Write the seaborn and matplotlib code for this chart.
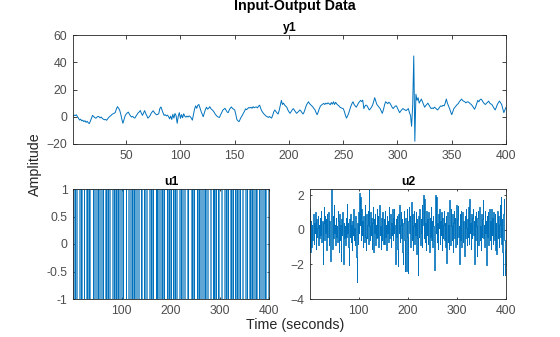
import numpy as np
import pandas as pd
import matplotlib
matplotlib.use("Agg")
import matplotlib.pyplot as plt
import seaborn as sns

# ---------------- data ----------------
y1 = [
    0.5, 1.2, 0.8, 1.5, 0.3, -1.0, -2.4, -1.8, -3.0, -2.5, -3.6, -2.9, -4.1, -3.3, -4.4, -5.0, -3.2, -1.0, 1.0, 0.2,
    -0.6, -1.1, -0.4, 0.3, 0.0, -0.8, -0.2, -1.2, -1.8, -2.2, -2.0, -2.6, -1.5, -0.4, 0.2, 0.9, 1.8, 2.2, 2.6, 3.2,
    5.8, 7.4, 6.3, 4.8, 2.0, -1.8, -4.8, -2.0, 0.6, 2.0, 2.8, 3.4, 1.8, 0.6, -0.2, 0.3, -0.6, -1.0, 0.4, 1.6,
    2.8, 3.5, 4.6, 2.6, 1.0, 2.8, 4.5, 2.4, 0.8, -1.0, -0.2, 0.8, 2.5, 3.6, 4.4, 3.0, 2.1, 1.4, 1.8, 2.2,
    6.0, 7.2, 5.0, 2.8, 1.0, 1.5, 0.6, 1.2, 0.2, -1.5, 0.5, -2.0, 1.8, -1.0, 2.4, 0.8, -4.8, 0.4, 3.0, -1.2,
    1.6, -0.8, 2.2, 0.4, -0.3, 0.5, -0.2, 0.6, 0.1, -1.0, -2.5, 1.5, 5.6, 8.0, 6.2, 8.4, 9.0, 6.5, 4.0, 2.0,
    0.0, 2.8, 5.2, 7.0, 5.6, 6.2, 7.4, 6.0, 5.2, 4.5, 3.4, 2.0, 1.0, 0.2, -0.3, -0.5, 1.5, 3.0, 4.8, 5.5,
    6.2, 4.8, 3.5, 3.0, 5.0, 6.4, 7.2, 6.0, 5.6, 5.0, 1.8, -2.0, -3.0, -3.6, -1.8, -0.2, 1.0, 2.6, 4.0, 5.8,
    5.2, 6.0, 6.8, 6.4, 7.0, 6.2, 7.4, 6.6, 7.0, 7.2, 6.5, 7.8, 8.5, 6.0, 4.2, 3.0, 2.0, 1.2, 0.4, 0.0,
    -0.5, 0.2, -0.4, -1.0, 1.0, 3.6, 5.0, 3.8, 2.8, 2.0, 4.6, 8.2, 12.0, 9.0, 10.0, 8.6, 7.8, 7.0, 5.0, 3.6,
    2.5, 3.8, 5.0, 6.0, 4.8, 3.6, 2.5, 3.2, 4.0, 5.0, 4.2, 3.0, 2.0, 3.5, 6.0, 8.4, 9.8, 11.0, 9.6, 8.8,
    8.0, 7.2, 6.0, 5.0, 3.0, 1.5, 3.6, 6.0, 7.8, 8.6, 9.2, 9.8, 9.0, 10.0, 9.4, 10.2, 9.6, 8.8, 10.4, 9.2,
    11.0, 9.0, 10.6, 9.4, 8.6, 8.0, 7.0, 6.6, 6.2, 6.0, 4.0, 1.2, -1.0, 0.6, 2.5, 5.0, 7.6, 9.6, 11.0, 9.0,
    8.0, 7.0, 8.4, 10.0, 11.0, 12.0, 11.2, 12.2, 6.0, 7.8, 8.6, 8.0, 6.5, 5.0, 5.8, 7.0, 8.4, 11.0, 14.0, 11.5,
    9.0, 8.0, 7.0, 6.0, 4.2, 2.5, 5.0, 8.4, 11.0, 10.4, 9.6, 10.6, 10.0, 8.6, 7.0, 6.0, 7.0, 7.8, 8.0, 6.2,
    4.6, 3.0, 4.2, 5.2, 6.0, 5.4, 5.0, 4.5, 5.2, 6.0, 3.0, 1.0, -7.0, 8.0, 44.6, -18.0, 16.5, 12.0, 14.0, 10.0,
    11.5, 13.0, 11.0, 9.0, 7.0, 8.2, 9.0, 10.0, 8.6, 7.2, 6.0, 6.4, 6.0, 7.0, 6.4, 5.6, 5.0, 6.0, 7.2, 8.0,
    7.6, 8.4, 8.0, 10.0, 13.0, 10.0, 8.0, 6.0, 3.6, 1.5, 3.8, 6.0, 7.0, 8.0, 9.0, 9.6, 11.0, 12.0, 13.0, 12.0,
    11.4, 11.0, 10.2, 10.8, 11.0, 10.4, 9.6, 9.0, 8.0, 6.8, 5.5, 7.2, 9.6, 12.0, 11.0, 12.4, 13.0, 12.0, 10.6, 9.6,
    9.0, 9.8, 10.6, 11.5, 10.0, 9.4, 9.0, 7.6, 6.2, 5.0, 6.8, 9.0, 10.4, 11.5, 10.2, 9.0, 6.0, 3.0, 5.0, 7.0,
]

# u1: binary input given as run lengths of alternating levels (+1 first)
u1_start = 1
u1_runs = [1, 2, 1, 1, 2, 1, 5, 1, 2, 1, 2, 3, 1, 3, 2, 1, 1, 2, 1, 1, 6, 1, 2, 1, 2, 3,
           1, 1, 2, 1, 2, 1, 1, 2, 1, 1, 3, 2, 1, 1, 2, 1, 1, 2, 5, 1, 2, 1, 1, 2, 1, 2, 1, 1, 2, 1,
           3, 1, 2, 1, 5, 1, 3, 2, 1, 1, 2, 1, 2, 1, 1, 2, 1, 1, 3, 1, 3, 2, 3, 1, 2, 3, 1, 2, 1, 2,
           5, 1, 2, 1, 1, 2, 1, 5, 1, 2, 1, 2, 1, 3, 2, 1, 1, 2, 1, 1, 5, 1, 2, 1, 1, 2, 1, 1, 3,
           1, 2, 1, 1, 2, 1, 5, 1, 2, 1, 2, 1, 3, 2, 5, 1, 1, 5, 2, 1, 1, 2, 1, 5, 1, 2, 1, 1, 2, 1, 2,
           3, 1, 2, 1, 2, 1, 2, 5, 2, 3, 1, 2, 1, 1, 2, 1, 3, 1, 2, 3, 2, 5, 1, 2, 1, 1, 2, 1, 3,
           2, 1, 1, 2, 1, 3, 1, 2, 1, 1, 2, 1, 2, 1, 5, 1, 5, 1, 2, 1, 3, 2, 1, 1, 2, 1, 1, 3,
           1, 2, 1, 2, 3, 1, 2, 1, 2, 3, 1, 2, 1, 1, 5, 1, 2]

u2 = [
    1.2, -1.3, 0.5, -1.0, 0.3, -0.6, 0.2, 0.9, -0.8, 0.4, -0.2, 1.0, -1.1, 0.6, -0.4, 0.1, 0.8, -0.9, 0.3, -0.5,
    0.7, -0.3, 1.1, -0.7, 0.2, 0.5, -2.0, 0.4, 1.3, -0.6, 0.8, -0.2, 0.6, -1.2, 0.9, -0.4, 0.2, 1.0, -0.9, 0.5,
    -0.3, -1.8, 0.6, 2.35, 0.4, -1.1, 0.8, -0.5, 1.4, -0.2, 0.3, -0.9, 0.7, -0.4, 0.2, -0.7, 1.1, -0.1, 0.5, -1.3,
    0.9, -0.6, 0.3, -1.8, 0.6, -0.3, 1.0, -0.8, -2.0, 0.4, -0.5, 0.2, -0.9, 0.7, -0.4, 1.5, -0.2, 0.4, -1.0, -2.05,
    0.6, -0.4, 0.9, -0.7, 0.3, -1.2, 0.5, -0.3, 1.2, -0.6, 0.1, -0.9, 0.8, -0.5, -1.6, -3.0, 0.4, -0.8, 1.0, -0.2,
    2.1, 0.3, 1.9, -0.6, 1.2, -0.3, 0.5, -1.0, 0.8, 0.1, -0.7, 1.4, -0.4, 0.6, -1.2, 0.9, -0.5, 0.3, 1.1, -0.8,
    2.3, 0.2, -0.6, 1.0, -0.3, 0.7, -1.1, 0.4, 1.3, -1.3, 0.6, -0.2, 0.9, -0.9, 0.3, -0.5, 1.2, -0.4, 0.8, -1.0,
    0.5, 1.4, -0.3, 0.2, -1.1, 0.7, -0.6, 1.0, 0.1, -0.8, 0.6, -0.8, 1.1, -0.4, 0.3, -1.2, 0.8, -0.2, 0.5, -0.7,
    1.3, -0.5, 0.2, 0.9, -1.0, 0.4, -0.3, 1.2, -0.6, 0.7, -0.2, 1.2, 0.3, -0.9, -2.0, 0.6, -0.4, 0.8, -1.1, -2.1,
    0.9, -0.2, 1.4, -0.7, 0.3, 1.0, -0.5, 0.6, -1.3, -2.0, 0.4, 1.1, -0.6, -2.4, 0.7, -0.3, -2.4, 1.2, -0.4, -2.5,
    0.5, 1.3, -0.2, 0.8, -1.0, 0.3, 1.6, -0.6, 0.9, -1.2, 0.2, 1.1, -0.8, 0.4, -0.3, 1.0, -1.4, 0.6, -0.5, -2.6,
    0.8, -0.4, 1.2, 0.1, -0.9, 0.6, -0.2, 1.4, -1.0, 0.3, 0.9, 2.0, -0.5, 1.8, -0.7, 0.4, -1.2, 1.1, -0.3, 0.6,
    -0.8, 1.0, 0.2, -1.3, 0.7, -0.4, 1.3, -0.6, 0.5, -1.0, 0.8, 0.2, -0.9, -2.3, 0.6, 2.0, -0.2, 1.9, -0.7, 0.4,
    -1.1, 0.9, 0.1, 1.2, -0.8, 0.5, -0.3, 1.0, -1.2, 0.7, -0.5, 0.3, 1.1, -0.6, 0.4, -1.0, 0.8, -1.9, 0.5, 1.0,
    -0.7, 0.3, -1.1, 1.7, -0.4, 0.6, -0.9, 1.2, 0.2, -0.6, 0.9, -1.3, 0.4, 1.1, -0.5, 0.7, -1.0, 0.3, 1.4, -0.8,
    0.6, 1.35, -0.4, 0.2, -2.0, 0.9, -0.6, 1.1, -1.0, 0.4, 1.0, -0.7, 0.5, -0.3, -1.5, 0.8, -0.5, 1.2, 0.1, -0.9,
    0.6, -0.4, 1.3, -0.8, 1.8, -0.2, 0.4, -1.1, 0.9, -0.5, 0.7, 1.2, -0.3, 0.5, -2.0, 0.8, -0.6, 1.0, 0.2, -1.5,
    0.7, -0.3, 1.1, -0.9, 0.4, 1.3, -0.6, 0.2, -1.2, 0.9, -0.4, 0.6, 1.7, -0.5, 0.3, -1.0, 1.1, -0.2, 0.5, -2.05,
    0.8, -0.4, 1.0, -0.9, 0.3, 1.2, -0.6, 0.5, -1.1, 1.2, -0.3, 0.7, -0.8, 1.0, 0.2, -0.6, 0.9, -1.2, 0.4, -1.4,
    0.6, 1.1, -0.5, 0.8, -1.0, 0.3, 1.4, -0.4, 1.9, -0.8, 0.6, -1.3, -2.6, 0.9, 1.8, -0.6, -2.6, -1.2, 0.4, 0.3,
]

y1_ticks = [-20, 0, 20, 40, 60]
top_xticks = [50, 100, 150, 200, 250, 300, 350, 400]
u1_ticks = [-1, -0.5, 0, 0.5, 1]
u1_ticklabels = ["-1", "-0.5", "0", "0.5", "1"]
u2_ticks = [-4, -2, 0, 2]
bottom_xticks = [100, 200, 300, 400]

# ------------- build frames -------------
u1_levels = [u1_start * (1 if i % 2 == 0 else -1) for i in range(len(u1_runs))]
u1 = np.repeat(u1_levels, u1_runs)

df_y1 = pd.DataFrame({"t": np.arange(1, len(y1) + 1), "v": y1})
df_u1 = pd.DataFrame({"t": np.arange(1, len(u1) + 1), "v": u1})
df_u2 = pd.DataFrame({"t": np.arange(1, len(u2) + 1), "v": u2})

# ------------- style -------------
sns.set_theme(style="white")
plt.rcParams["font.family"] = ["Liberation Sans", "DejaVu Sans"]
axis_col = "#262626"
tick_col = "#4d4d4d"
line_col = "#0072BD"

fig = plt.figure(figsize=(5.6, 3.37), dpi=100)
fig.patch.set_facecolor("white")

ax_y1 = fig.add_axes([73 / 560, 1 - 144 / 337, 433 / 560, 109 / 337])
ax_u1 = fig.add_axes([73 / 560, 1 - 299 / 337, 196 / 560, 110 / 337])
ax_u2 = fig.add_axes([310 / 560, 1 - 299 / 337, 196 / 560, 110 / 337])

sns.lineplot(data=df_y1, x="t", y="v", ax=ax_y1, color=line_col, lw=0.7, estimator=None)
sns.lineplot(data=df_u1, x="t", y="v", ax=ax_u1, color=line_col, lw=0.45, estimator=None,
             drawstyle="steps-post")
sns.lineplot(data=df_u2, x="t", y="v", ax=ax_u2, color=line_col, lw=0.6, estimator=None,
             drawstyle="steps-post")

def style(ax, title, ticklen):
    ax.set_xlabel("")
    ax.set_ylabel("")
    ax.set_title(title, fontsize=8.8, fontweight="bold", color="black", pad=3)
    for s in ax.spines.values():
        s.set_visible(True)
        s.set_color(axis_col)
        s.set_linewidth(0.6)
    ax.tick_params(direction="in", length=ticklen, width=0.6, color=axis_col,
                   labelsize=8.8, labelcolor=tick_col, pad=4,
                   top=True, right=True, bottom=True, left=True)
    ax.set_facecolor("white")

style(ax_y1, "y1", 3.2)
ax_y1.set_xlim(1, 400)
ax_y1.set_ylim(-20, 60)
ax_y1.set_xticks(top_xticks)
ax_y1.set_yticks(y1_ticks)

style(ax_u1, "u1", 1.6)
ax_u1.set_xlim(1, 400)
ax_u1.set_ylim(-1, 1)
ax_u1.set_xticks(bottom_xticks)
ax_u1.set_yticks(u1_ticks)
ax_u1.set_yticklabels(u1_ticklabels)

style(ax_u2, "u2", 1.6)
ax_u2.set_xlim(1, 400)
ax_u2.set_ylim(-4, 2.35)
ax_u2.set_xticks(bottom_xticks)
ax_u2.set_yticks(u2_ticks)

fig.text(295 / 560, 1 - 6 / 337, "Input-Output Data", ha="center", va="center",
         fontsize=10.3, fontweight="bold", color="black")
fig.text(35 / 560, 1 - 164 / 337, "Amplitude", ha="center", va="center",
         rotation=90, fontsize=10.3, color=axis_col)
fig.text(295 / 560, 1 - 325 / 337, "Time (seconds)", ha="center", va="center",
         fontsize=10.3, color=axis_col)

fig.savefig("out.png", dpi=100, facecolor="white")
